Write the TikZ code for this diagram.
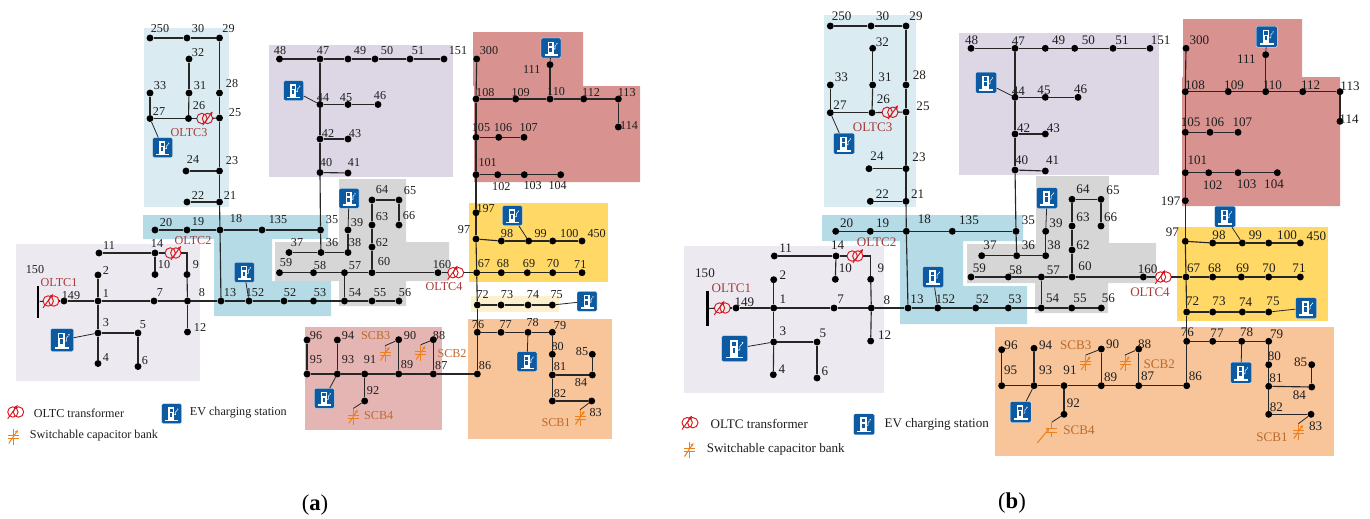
\documentclass[tikz,border=0pt]{standalone}
\usepackage{fontspec}
\setmainfont{Liberation Serif}
\usetikzlibrary{arrows.meta,positioning}
\definecolor{skyreg}{HTML}{DAECF2}
\definecolor{bluereg}{HTML}{B5DBE6}
\definecolor{lilacreg}{HTML}{DDD6E5}
\definecolor{palereg}{HTML}{ECEAF0}
\definecolor{greyreg}{HTML}{D6D6D6}
\definecolor{rosereg}{HTML}{E5B5B3}
\definecolor{redreg}{HTML}{D89390}
\definecolor{yelreg}{HTML}{FFD866}
\definecolor{paleyel}{HTML}{FDF0CE}
\definecolor{orgreg}{HTML}{F8C499}
\definecolor{evblue}{HTML}{0B5AA2}
\definecolor{tfred}{HTML}{D7141A}
\definecolor{tftext}{HTML}{A83A3A}
\definecolor{scbor}{HTML}{EE7F1B}
\definecolor{scbtext}{HTML}{BC6A2C}
\definecolor{ink}{HTML}{1E1E1E}
\newcommand{\fsa}{\fontsize{9.1}{10}\selectfont}
\newcommand{\fsb}{\fontsize{9.8}{11}\selectfont}
\tikzset{
  bus/.style={circle,fill=black,inner sep=0pt,minimum size=5.2pt},
  wire/.style={draw=black!85,line width=0.85pt},
  lbl/.style={inner sep=0pt,text=ink},
  tflbl/.style={lbl,text=tftext},
  scblbl/.style={lbl,text=scbtext},
  busbar/.style={fill=black,inner sep=0pt,minimum width=1.9pt,minimum height=#1},
  tfbox/.style={inner sep=0pt,minimum width=11.5pt,minimum height=7.5pt},
  scbbox/.style={inner sep=0pt,minimum width=7.5pt,minimum height=12pt},
  evbox/.style={fill=evblue,draw=white,line width=0.2pt,rounded corners=1pt,inner sep=0pt,minimum size=#1*0.75pt},
  pics/evpump/.style={code={
    \begin{scope}[scale=#1]
      \fill[white] (-3.5,-6.5) rectangle (2.5,6);
      \fill[white] (-6.5,6) rectangle (6.5,7.5);
      \fill[evblue] (-2.2,-5) rectangle (1.2,-2);
      \fill[evblue] (-1.6,-0.5) rectangle (0.6,3.5);
      \draw[white,line width=0.4pt] (2.5,1) -- (4,1) -- (4,-2) -- (5.5,-3.5);
      \fill[white] (6,-4.5) circle (0.7);
    \end{scope}
  }},
  pics/oltc/.style={code={
    \draw[tfred,line width=0.7pt] (-2.8,0) circle (5.2) (2.8,0) circle (5.2);
    \draw[tfred,line width=0.7pt,-{Stealth[length=3pt,width=2.6pt]}] ({#1-3},6.8) -- ({#1+7},-7);
  }},
  pics/scb/.style={code={
    \draw[scbor,line width=0.75pt] (0,-8) -- (0,-1.6) (-5.5,-1.6) -- (5.5,-1.6) (-5.5,1.6) -- (5.5,1.6) (0,1.6) -- (0,8);
    \draw[scbor,line width=0.75pt,-{Stealth[length=2.5pt,width=2.4pt]}] (-4.5,6.5) -- (4.5,-7);
  }},
  pics/scbwide/.style={code={
    \draw[scbor,line width=0.75pt] (0,-8) -- (0,-1.6) (-5.5,-1.6) -- (5.5,-1.6) (-5.5,1.6) -- (5.5,1.6) (0,1.6) -- (0,6);
    \draw[scbor,line width=0.75pt,-{Stealth[length=2.5pt,width=2.4pt]}] (-14.5,12.5) -- (-2.5,-2);
  }},
}

\begin{document}
\begin{tikzpicture}[x=0.75pt,y=-0.75pt]
\useasboundingbox (0,0) rectangle (1370,518);

% regions of (a)
\fill[palereg] (16,244) rectangle (200,381);
\fill[skyreg] (144,28) rectangle (229,207);
\fill[lilacreg] (269,45) rectangle (453,177);
\fill[bluereg] (143,215) -- (328,215) -- (328,239) -- (272,239) -- (272,281) -- (331,281) -- (331,316) -- (214,316) -- (214,239) -- (143,239) -- cycle;
\fill[greyreg] (339,179) -- (406,179) -- (406,242) -- (449,242) -- (449,281) -- (406,281) -- (406,306) -- (339,306) -- (339,281) -- (275,281) -- (275,242) -- (339,242) -- cycle;
\fill[rosereg] (305,327) rectangle (442,430);
\fill[redreg] (473,32) -- (583,32) -- (583,86) -- (640,86) -- (640,182) -- (474,182) -- (474,86) -- (473,86) -- cycle;
\fill[yelreg] (469,203) rectangle (608,282);
\fill[paleyel] (471,296) rectangle (559,312);
\fill[orgreg] (468,319) rectangle (612,439);

% regions of (b)
\fill[palereg] (684,246) rectangle (884,393);
\fill[skyreg] (824,15) rectangle (916,207);
\fill[lilacreg] (959,33) rectangle (1159,175);
\fill[bluereg] (822,215) -- (1023,215) -- (1023,241) -- (963,241) -- (963,286) -- (1027,286) -- (1027,324) -- (900,324) -- (900,241) -- (822,241) -- cycle;
\fill[greyreg] (1036,176) -- (1109,176) -- (1109,243) -- (1156,243) -- (1156,283) -- (1108,283) -- (1108,313) -- (1035,313) -- (1035,283) -- (967,283) -- (967,244) -- (1036,244) -- cycle;
\fill[redreg] (1183,19) -- (1302,19) -- (1302,77) -- (1340,77) -- (1340,206) -- (1182,206) -- (1182,77) -- (1183,77) -- cycle;
\fill[yelreg] (1177,227) rectangle (1328,321);
\fill[orgreg] (995,327) rectangle (1334,456);

% buses of (a): name/x/y/label x/label y
\begin{scope}[every node/.append style={font=\fsa}]
\foreach \n/\x/\y/\u/\v in {
  250/150/38/160/29, 30/187/38/198/29, 29/219.5/38/228.5/29, 32/189/59/198/53, 33/150/93/160/86,
  31/189/93/200/86, 28/219.5/93/232/84, 27/150/118.5/159/111, 26/188.5/118.5/199/106, 25/219.5/118/235/113,
  24/186/171/193/159, 23/219.5/171/232/161, 22/187/202/198/195, 21/219.5/202/230/195, 20/155/230/166/223,
  19/187/230/198/222, 18/220/230/236/219, 135/262/230/278/220, 35/320.5/230/332/220, 48/279.5/59/280/51,
  47/320/59/323/51, 49/348/59/360/51, 50/375/59/387/51, 51/410/59/418/51, 151/444/59/458/51,
  44/320/104.5/323/98, 45/348/104.5/346/98, 46/378/104.5/380/96, 42/320/139/328/133, 43/348/139/355/134,
  40/320/172.5/326/163, 41/348/173/354/162, 39/348/230/357/223, 38/348/252.5/355/243, 36/321/252.5/332/243,
  37/289/252.5/297/243, 64/372/200/382/190, 65/399/200/410/191, 63/372/225/382/217, 66/399/225/409/216,
  62/372/247/382/243, 60/372/272.7/384/262, 59/279.5/272.7/286/263, 58/313.5/272.7/320/266, 57/344.5/272.7/355/266,
  160/438/272.7/442/265, 54/344.5/301/355/293, 55/372/301/380/293, 56/399/301/405/293, 53/313.5/301/320/293,
  52/284/301/290/293, 152/249/301/255/293, 13/221/301/230/293, 8/187.5/301/202/293, 7/154/301/160/293,
  1/98/301/106/293, 149/64/301/71/296, 2/98/275/106/270, 11/99/253/109/245, 14/155/253/157/243,
  10/155/274.5/164/265, 9/187/274.5/196/265, 12/187.5/332/200/327, 3/98/333/106/323, 5/138/333/143/325,
  4/98/363.5/106/358, 6/138/366.5/145/361, 96/307/340/316/336, 94/337.3/340/348/336, 95/307/374/316/360,
  93/337.3/374/348/360, 91/364.7/374/370/360, 89/398.7/374/407/365, 90/398.7/339.7/410/336, 87/433.3/374/441.3/366,
  88/433.3/339.7/439/336, 86/477.3/374/485/366, 92/364.7/401/373/391, 76/477.3/332.3/478/325, 77/501/332.3/505.7/325,
  78/528/332.3/532.7/323, 79/552.3/332.3/560/326, 80/552.3/354.3/557.7/347, 81/552.3/375/560/367, 82/552.3/401/560/394,
  83/591.7/401/595.7/413, 84/592.3/375/581/383, 85/592.3/354.3/582/352, 72/477.3/305/482.7/294, 73/501/305/507/295,
  74/528/305/533/295, 75/552.3/305/556.7/295, 67/476.7/272.7/484/264, 68/501.3/272.7/503/264, 69/527.3/272.7/529/264,
  70/552.7/272.7/553/264, 71/582/272.7/580.3/264, 97/476/239/464/230, 98/501.3/241/507/234, 99/528.7/241/540.7/234,
  100/552.7/241/569.3/234, 450/582/241/596.7/234, 197/476/212.7/485.7/208.7, 101/476/174.7/487.7/162.7,
  102/497.7/174.7/501.3/186.7, 103/524.3/174.7/532.7/186, 104/560.7/174.7/557.7/186, 105/476/137.3/481/128,
  106/498.7/137.3/503/128, 107/524/137.3/528.7/128, 108/476/99/485.3/93, 109/515.7/99/520.7/93, 110/550/99/556/92,
  112/583.7/99/591/92, 113/618.3/99/626.7/93, 114/618.3/127/629/125, 300/476.7/59/489/51, 111/550/64.7/531.7/69}{
  \node[bus] (a\n) at (\x,\y) {};
  \node[lbl] (a\n l) at (\u,\v) {\n};
}
\node[busbar=24pt] (a150) at (38,301.5) {};
\node[lbl] (a150l) at (35,270) {150};
\node[tfbox] (a-t1) at (51,301) {};
\node[tfbox] (a-t2) at (173,253) {};
\node[tfbox] (a-t3) at (204.7,118.5) {};
\node[tfbox] (a-t4) at (455.7,272.7) {};
\node[tflbl] (a-t1l) at (59,283) {OLTC1};
\node[tflbl] (a-t2l) at (193,241) {OLTC2};
\node[tflbl] (a-t3l) at (189,133) {OLTC3};
\node[tflbl] (a-t4l) at (444,286.7) {OLTC4};
\node[scbbox] (a-s1) at (580,418) {};
\node[scbbox] (a-s2) at (420.7,353) {};
\node[scbbox] (a-s3) at (385,354) {};
\node[scbbox] (a-s4) at (353.3,416.7) {};
\node[scblbl] (a-s1l) at (556,422.7) {SCB1};
\node[scblbl] (a-s2l) at (452,354) {SCB2};
\node[scblbl] (a-s3l) at (375.7,336) {SCB3};
\node[scblbl] (a-s4l) at (378.7,416) {SCB4};
\node[evbox=20] (a-e27) at (162.7,147.7) {};
\node[evbox=20] (a-e44) at (293.7,90.7) {};
\node[evbox=20] (a-e39) at (349,198.3) {};
\node[evbox=20] (a-e152) at (244.3,272.3) {};
\node[evbox=23] (a-e3) at (62,340) {};
\node[evbox=20] (a-e93) at (324.3,398.3) {};
\node[evbox=20] (a-e111) at (551,48) {};
\node[evbox=20] (a-e99) at (512.3,215.7) {};
\node[evbox=20] (a-e75) at (587,301.3) {};
\node[evbox=20] (a-e78) at (527,361.7) {};
% legend of (a)
\node[tfbox] (a-lt) at (15.7,412) {};
\node[lbl] (a-ltt) at (79,413) {OLTC transformer};
\node[evbox=20] (a-le) at (171.7,413.7) {};
\node[lbl] (a-let) at (238.3,413) {EV charging station};
\node[scbbox] (a-ls) at (13.3,437) {};
\node[lbl] (a-lst) at (94,436) {Switchable capacitor bank};
\end{scope}

% buses of (b)
\begin{scope}[every node/.append style={font=\fsb}]
\foreach \n/\x/\y/\u/\v in {
  250/830.3/26/841.7/16.7, 30/871/26/882.7/16.7, 29/906/26/916/16.7, 32/872.7/48.3/882.3/42.7, 33/830.3/85/841.3/77,
  31/872.7/85/885/77, 28/906/85/919.3/75.7, 27/830.3/112.7/840/105, 26/872/112.7/883.3/99, 25/906/112/923/106.7,
  24/869/168.7/877/155.7, 23/906/168.7/919/157.7, 22/870.3/201.3/882.3/193.7, 21/906/201.3/917.7/193.7,
  20/835.7/231.3/846.7/223.7, 19/870.3/231.3/882.7/223.7, 18/906.3/231.3/924.3/219.7, 135/952.3/231.3/969/220.7,
  35/1016/231.3/1028.3/220.7, 48/971/48.3/971.7/40.7, 47/1015/48.3/1018.3/40.7, 49/1045.3/48.3/1058.7/40.7,
  50/1074.7/48.3/1088.3/40.7, 51/1113/48.3/1122/40.7, 151/1150/48.3/1160.7/40.7, 44/1015/97.3/1018.3/90.7,
  45/1045.3/97.3/1044/90.7, 46/1078/97.3/1080.7/89, 42/1015/134/1023.7/127.7, 43/1045.3/134/1053.3/128.7,
  40/1015/170/1021.7/160.7, 41/1045.3/171/1052.7/160, 39/1045.7/231.3/1056/223.7, 64/1072/199.3/1083/189,
  65/1101/199.3/1113/190, 63/1072/226/1083/217, 66/1101/226/1110.7/217, 36/1016.7/255.7/1028.3/245.7,
  38/1045.7/255.7/1054/245.7, 37/981.7/255.7/990/245, 62/1072/250/1083/245.3, 60/1072/277/1085/266,
  59/971/277/979.3/268, 58/1008.3/277/1015.7/270, 57/1041.3/277/1053.3/270, 160/1143.3/277/1147.7/269.7,
  67/1186/277/1193.7/268, 68/1212.7/277/1214.7/268, 69/1241.3/277/1242.7/268, 70/1268.7/277/1269/268,
  71/1300.3/277/1299/268, 97/1185.3/241.3/1172.3/232, 98/1212.7/243/1219/235.7, 99/1242.3/243/1255.3/235.7,
  100/1268.7/243/1287/235.7, 450/1300.3/243/1316.3/236.7, 72/1186.7/312/1192.7/300.7, 73/1212.7/312/1219/301.7,
  74/1242.3/312/1245.7/301.7, 75/1268.7/312/1273/301.7, 76/1186.7/341.3/1187.3/332.7, 77/1212.7/341.3/1217/333.7,
  78/1241.7/341.3/1246.7/332.7, 79/1268.7/341.3/1276.7/334.3, 80/1268.7/364.7/1274.3/356.7, 81/1268.7/386.3/1276/378.7,
  82/1268.7/414.3/1276.3/407.7, 83/1311/414.3/1315.7/426.7, 84/1311.7/387/1299.3/395.3, 85/1311.7/364.7/1300.7/362.7,
  86/1186.7/385.7/1195.3/376.7, 87/1138.7/385.7/1147.7/376.7, 88/1138.7/349/1144.7/344.3, 89/1101.3/385.7/1110.7/377,
  90/1101.3/349/1112.7/344.3, 91/1064/385.7/1070/370.7, 93/1034/385.7/1045.7/370.7, 94/1034/348.3/1045.7/345.7,
  95/1001.7/385.7/1010.7/370.7, 96/1001.7/349.7/1011/345.7, 92/1064/414.3/1073.3/403.3, 300/1186/48.3/1199.3/40.7,
  111/1265.7/54.7/1246.3/59.3, 108/1185.3/91.7/1195/85, 109/1228.3/91.7/1234/85, 110/1265.7/91.7/1272.3/85,
  112/1302.7/91.7/1310.7/85, 113/1340/91.7/1350/86, 114/1340/121.3/1349/119, 105/1185.3/132.3/1190.7/122.7,
  106/1210/132.3/1214.3/122.7, 107/1238/132.3/1242.3/122.7, 101/1185.3/172.7/1197.3/160, 102/1208.7/172.7/1212.7/185.3,
  103/1238/172.7/1246.7/184.7, 104/1277.3/172.7/1274/184.7, 197/1185.3/200.7/1170.7/201.7, 149/736/308/744.3/302.7,
  1/773.7/308/783/299, 2/773.7/279.7/783/274.7, 11/774.3/256/785.7/247.7, 14/836/256/837.7/245.3,
  10/835.3/279.3/845.3/268.7, 9/870.7/279.3/881/268.7, 7/834/308/840.7/299.7, 8/871.3/308/887/300.3, 13/908/308/917/299,
  152/937.7/308/945.3/299, 52/975.7/308/982.3/299, 53/1008.3/308/1015/299, 54/1041.3/308/1052.7/298.7,
  55/1071.7/308/1080/298.7, 56/1101.3/308/1108.3/298.7, 12/870.7/341/884.7/334.7, 3/773.7/342/783/331.7,
  5/817/342/823/333, 4/773.3/374.7/782/369, 6/817/378/825/371.7}{
  \node[bus] (b\n) at (\x,\y) {};
  \node[lbl] (b\n l) at (\u,\v) {\n};
}
\node[busbar=26pt] (b150) at (707.7,308.5) {};
\node[lbl] (b150l) at (705,273.7) {150};
\node[tfbox] (b-t1) at (722.3,308) {};
\node[tfbox] (b-t2) at (855,256) {};
\node[tfbox] (b-t3) at (890,112.3) {};
\node[tfbox] (b-t4) at (1163.3,277) {};
\node[tflbl] (b-t1l) at (731.3,288.7) {OLTC1};
\node[tflbl] (b-t2l) at (876.7,242.7) {OLTC2};
\node[tflbl] (b-t3l) at (872.7,127.7) {OLTC3};
\node[tflbl] (b-t4l) at (1150,292.7) {OLTC4};
\node[scbbox] (b-s1) at (1298.3,432) {};
\node[scbbox] (b-s2) at (1125,363.3) {};
\node[scbbox] (b-s3) at (1085.7,363.3) {};
\node[scbbox] (b-s4) at (1051.7,430.5) {};
\node[scblbl] (b-s1l) at (1272,437.3) {SCB1};
\node[scblbl] (b-s2l) at (1159.3,364.7) {SCB2};
\node[scblbl] (b-s3l) at (1075.7,345.7) {SCB3};
\node[scblbl] (b-s4l) at (1079,430.7) {SCB4};
\node[evbox=21] (b-e27) at (844,143.7) {};
\node[evbox=21] (b-e44) at (986,82.7) {};
\node[evbox=21] (b-e39) at (1047,198) {};
\node[evbox=21] (b-e152) at (933,277) {};
\node[evbox=26] (b-e3) at (734.7,348.7) {};
\node[evbox=21] (b-e93) at (1020.7,412) {};
\node[evbox=21] (b-e111) at (1266.7,36.7) {};
\node[evbox=21] (b-e99) at (1225,216.7) {};
\node[evbox=21] (b-e75) at (1306,308) {};
\node[evbox=21] (b-e78) at (1241,372.7) {};
% legend of (b)
\node[tfbox] (b-lt) at (690,422.7) {};
\node[lbl] (b-ltt) at (759.3,424) {OLTC transformer};
\node[evbox=21] (b-le) at (864,424.3) {};
\node[lbl] (b-let) at (936.7,424) {EV charging station};
\node[scbbox] (b-ls) at (689,450) {};
\node[lbl] (b-lst) at (775.7,449) {Switchable capacitor bank};
\end{scope}

% symbols
\foreach \n/\k in {a-e27/1,a-e44/1,a-e39/1,a-e152/1,a-e3/1.15,a-e93/1,a-e111/1,a-e99/1,a-e75/1,a-e78/1,a-le/1,
  b-e27/1.05,b-e44/1.05,b-e39/1.05,b-e152/1.05,b-e3/1.3,b-e93/1.05,b-e111/1.05,b-e99/1.05,b-e75/1.05,b-e78/1.05,b-le/1.05}{
  \pic at (\n) {evpump=\k};
}
\foreach \s in {a,b}{
  \pic at (\s-t1) {oltc=-5};
  \pic at (\s-t2) {oltc=1};
  \pic at (\s-t3) {oltc=1};
  \pic at (\s-t4) {oltc=-5};
  \pic at (\s-lt) {oltc=-5};
  \pic at (\s-s1) {scb};
  \pic at (\s-s2) {scb};
  \pic at (\s-s3) {scb};
  \pic at (\s-ls) {scb};
  % the network, the same in both panels
  \foreach \p/\q in {149/1,1/7,7/8,8/13,13/152,152/52,52/53,53/54,54/55,55/56,1/2,1/3,3/4,3/5,5/6,8/12,8/9,14/11,14/10,
    13/18,18/21,21/23,23/25,25/28,28/29,29/30,30/250,26/31,31/32,26/27,27/33,23/24,21/22,18/19,19/20,18/135,135/35,
    35/36,35/40,40/42,42/44,44/47,47/48,47/49,49/50,50/51,51/151,44/45,45/46,42/43,40/41,36/37,36/38,38/39,
    54/57,57/58,58/59,57/60,60/160,60/62,62/63,63/64,64/65,65/66,67/68,68/69,69/70,70/71,67/97,97/197,197/101,101/105,
    105/108,108/300,97/98,98/99,99/100,100/450,67/72,72/73,73/74,74/75,72/76,76/77,77/78,78/79,79/80,80/81,81/82,82/83,
    81/84,84/85,76/86,86/87,87/89,89/91,91/93,93/95,95/96,93/94,89/90,87/88,91/92,101/102,102/103,103/104,105/106,106/107,
    108/109,109/110,110/112,112/113,113/114,110/111}{
    \draw[wire] (\s\p) -- (\s\q);
  }
  \draw[wire] (\s150) -- (\s-t1);
  \draw[wire] (\s-t1) -- (\s149);
  \draw[wire] (\s9) |- (\s-t2);
  \draw[wire] (\s-t2) -- (\s14);
  \draw[wire] (\s25) -- (\s-t3);
  \draw[wire] (\s-t3) -- (\s26);
  \draw[wire] (\s160) -- (\s-t4);
  \draw[wire] (\s-t4) -- (\s67);
  \foreach \n in {27,44,39,152,3,93,111,99,75,78}{
    \draw[wire,line width=0.6pt] (\s-e\n) -- (\s\n);
  }
  \draw[wire,line width=0.6pt] (\s83) -- (\s-s1.north);
  \draw[wire,line width=0.6pt] (\s88) -- (\s-s2.north);
  \draw[wire,line width=0.6pt] (\s90) -- (\s-s3.north);
  \draw[wire,line width=0.6pt] (\s92) -- (\s-s4.north);
}
\pic at (a-s4) {scb};
\pic at (b-s4) {scbwide};

\node[font=\fontsize{17}{19}\selectfont,inner sep=0pt] (capa) at (315,505) {(\textbf{a})};
\node[font=\fontsize{17}{19}\selectfont,inner sep=0pt] (capb) at (1012,503) {(\textbf{b})};
\end{tikzpicture}
\end{document}
